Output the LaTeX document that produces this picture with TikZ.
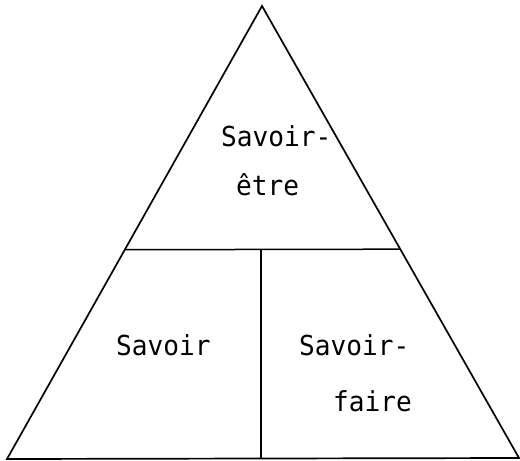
\documentclass[tikz,border=0pt]{standalone}
\usepackage{fontspec}
\newfontfamily\typefont[FakeStretch=0.95]{DejaVu Sans Mono}
\usetikzlibrary{calc}
\begin{document}
\begin{tikzpicture}[x=1pt,y=-1pt,
  edge/.style={line width=1.7pt,line join=miter},
  inner/.style={line width=1.5pt},
  lbl/.style={font=\typefont\fontsize{27.5}{27.5}\selectfont,anchor=base west,inner sep=0pt}]
\useasboundingbox (0,0) rectangle (520,461);
\coordinate (A) at (262,6);
\coordinate (L) at (7,459);
\coordinate (R) at (519,458);
\draw[edge] (A) -- (L) -- (R) -- cycle;
\coordinate (HL) at ($(A)!0.538!(L)$);
\coordinate (HR) at ($(A)!0.538!(R)$);
\draw[inner] (HL) -- (HR);
\coordinate (VT) at (261,250);
\coordinate (VB) at (261,458);
\draw[inner] (VT) -- (VB);
\node[lbl] (se1) at (221,146) {Savoir-};
\node[lbl] (se2) at (236,195) {être};
\node[lbl] (s) at (116,355) {Savoir};
\node[lbl] (sf1) at (299,355) {Savoir-};
\node[lbl] (sf2) at (333,411) {faire};
\end{tikzpicture}
\end{document}
